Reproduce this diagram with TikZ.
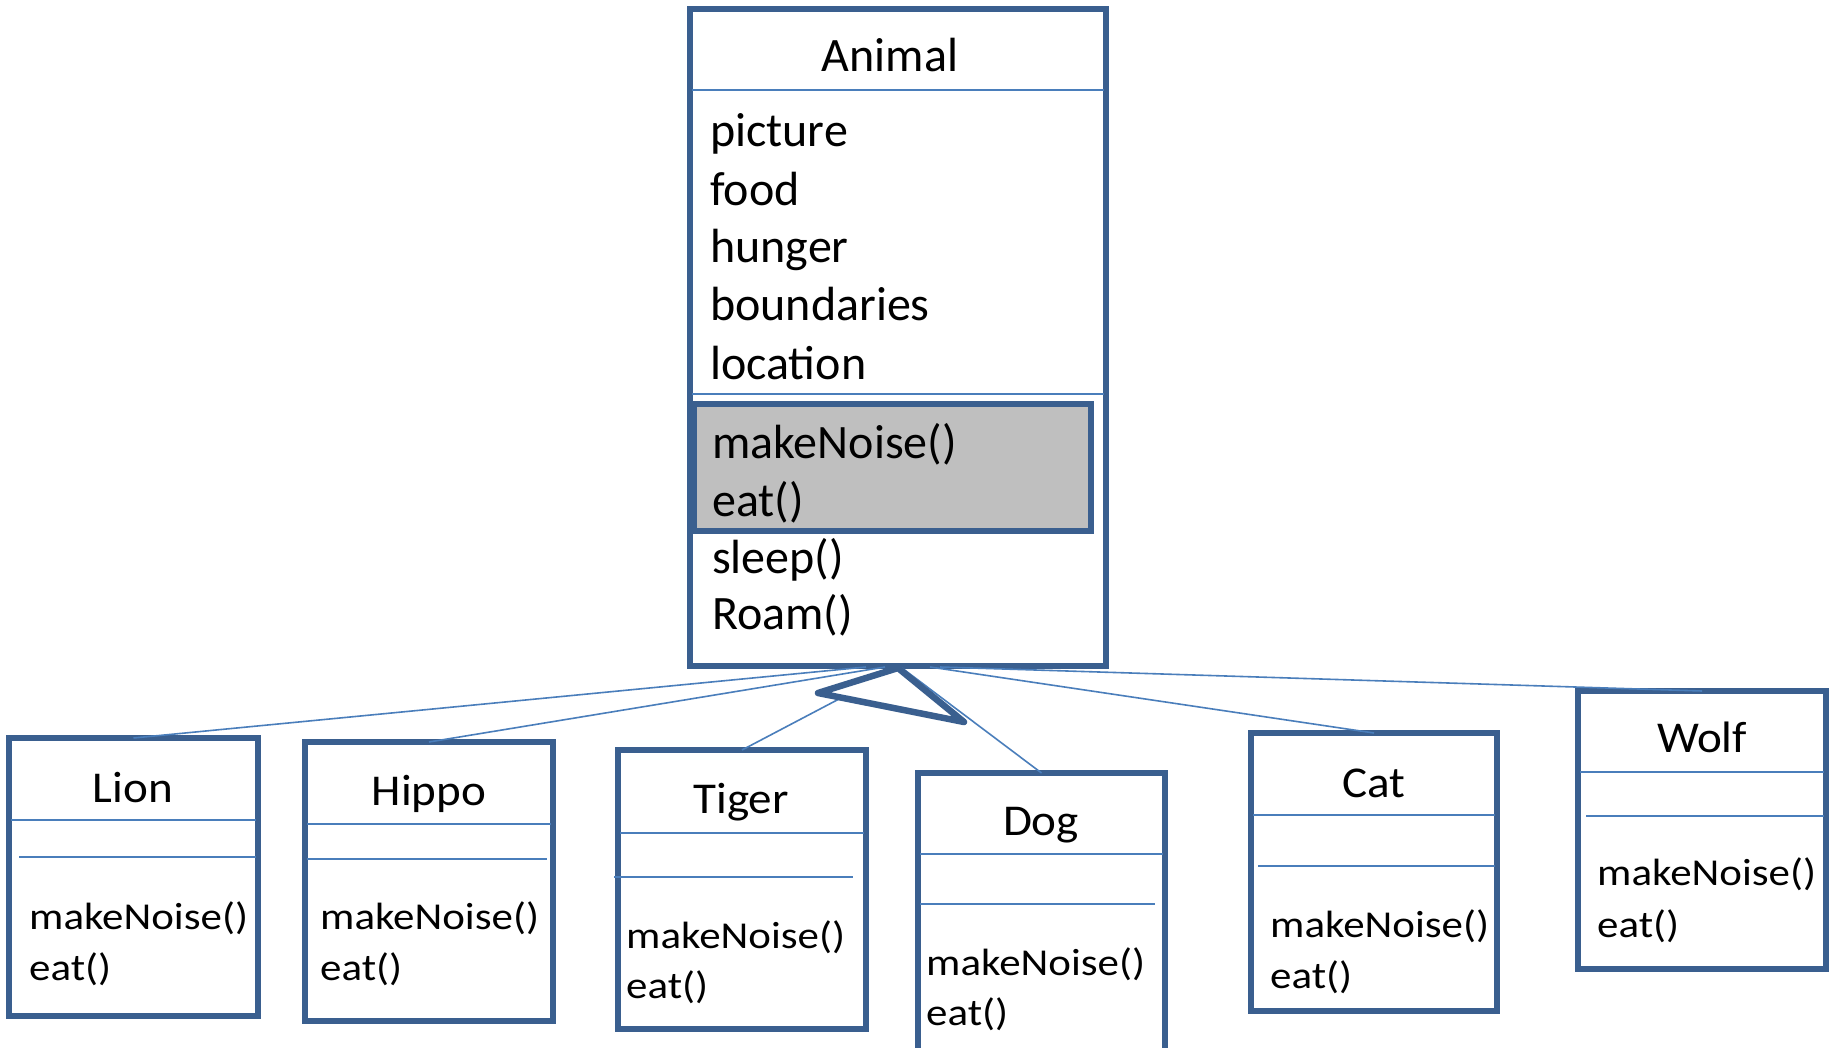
\documentclass[tikz,border=0pt]{standalone}
\usepackage{fontspec}
\setmainfont{Carlito}
\definecolor{boxc}{HTML}{3A5F8F}
\definecolor{linec}{HTML}{4A7EBB}
\definecolor{grayf}{HTML}{BFBFBF}
\begin{document}
\begin{tikzpicture}[x=1pt,y=-1pt,
 box/.style={draw=boxc, line width=5.5pt, inner sep=0pt, outer sep=0pt, anchor=north west, fill=white},
 graybox/.style={box, fill=grayf},
 sepline/.style={draw=linec, line width=1.8pt},
 conn/.style={draw=linec, line width=1.6pt},
 inh/.style={draw=boxc, line width=6.5pt, fill=white, line join=round},
 big/.style={font=\fontsize{48}{57}\selectfont, inner sep=0pt, anchor=base west},
 bigttl/.style={font=\fontsize{48}{57}\selectfont, inner sep=0pt, anchor=base},
 ttl/.style={font=\fontsize{44}{50}\selectfont, inner sep=0pt, anchor=base},
 meth/.style={font=\fontsize{38}{46}\selectfont, inner sep=0pt, anchor=base west},
]
\useasboundingbox (0,0) rectangle (1833,1048);
\clip (0,0) rectangle (1833,1048);
\fill[white] (0,0) rectangle (1833,1048);

% Animal
\node[box, minimum width=416pt, minimum height=657pt] (animal) at (690,9) {};
\draw[sepline] (692,90) -- (1104,90);
\draw[sepline] (692,394) -- (1104,394);
\node[graybox, minimum width=397pt, minimum height=127pt] (abstr) at (694,404) {};
\node[bigttl] (tAnimal) at (890,72) {Animal};
\node[big] (a1) at (710,147) {picture};
\node[big] (a2) at (710,206) {food};
\node[big] (a3) at (710,263) {hunger};
\node[big] (a4) at (710,321) {boundaries};
\node[big] (a5) at (710,379) {location};
\node[big] (m1) at (712,458) {makeNoise()};
\node[big] (m2) at (712,516) {eat()};
\node[big] (m3) at (712,573) {sleep()};
\node[big] (m4) at (712,629) {Roam()};

% children
\node[box, minimum width=249pt, minimum height=278pt] (lion) at (9,738) {};
\draw[sepline] (11,820) -- (256,820);
\draw[sepline] (19,857) -- (256,857);
\node[ttl] (tLion) at (133,802) {\scalebox{1.07}[1]{Lion}};
\node[meth] (lion1) at (29,929) {\scalebox{1.13}[1]{makeNoise()}};
\node[meth] (lion2) at (29,980) {\scalebox{1.13}[1]{eat()}};

\node[box, minimum width=248pt, minimum height=279pt] (hippo) at (305,742) {};
\draw[sepline] (307,824) -- (551,824);
\draw[sepline] (307,859) -- (547,859);
\node[ttl] (tHippo) at (429,805) {\scalebox{1.07}[1]{Hippo}};
\node[meth] (hippo1) at (320,929) {\scalebox{1.13}[1]{makeNoise()}};
\node[meth] (hippo2) at (320,980) {\scalebox{1.13}[1]{eat()}};

\node[box, minimum width=248pt, minimum height=279pt] (tiger) at (618,750) {};
\draw[sepline] (620,833) -- (864,833);
\draw[sepline] (614,877) -- (853,877);
\node[ttl] (tTiger) at (741,813) {\scalebox{1.07}[1]{Tiger}};
\node[meth] (tiger1) at (626,948) {\scalebox{1.13}[1]{makeNoise()}};
\node[meth] (tiger2) at (626,998) {\scalebox{1.13}[1]{eat()}};

\node[box, minimum width=247pt, minimum height=320pt] (dog) at (918,773) {};
\draw[sepline] (920,854) -- (1163,854);
\draw[sepline] (920,904) -- (1155,904);
\node[ttl] (tDog) at (1041,835) {\scalebox{1.07}[1]{Dog}};
\node[meth] (dog1) at (926,975) {\scalebox{1.13}[1]{makeNoise()}};
\node[meth] (dog2) at (926,1025) {\scalebox{1.13}[1]{eat()}};

\node[box, minimum width=246pt, minimum height=278pt] (cat) at (1251,733) {};
\draw[sepline] (1253,815) -- (1495,815);
\draw[sepline] (1258,866) -- (1495,866);
\node[ttl] (tCat) at (1374,797) {\scalebox{1.07}[1]{Cat}};
\node[meth] (cat1) at (1270,937) {\scalebox{1.13}[1]{makeNoise()}};
\node[meth] (cat2) at (1270,988) {\scalebox{1.13}[1]{eat()}};

\node[box, minimum width=248pt, minimum height=278pt] (wolf) at (1578,691) {};
\draw[sepline] (1580,772) -- (1824,772);
\draw[sepline] (1586,816) -- (1824,816);
\node[ttl] (tWolf) at (1702,752) {\scalebox{1.07}[1]{Wolf}};
\node[meth] (wolf1) at (1597,885) {\scalebox{1.13}[1]{makeNoise()}};
\node[meth] (wolf2) at (1597,937) {\scalebox{1.13}[1]{eat()}};

% connectors
\coordinate (sLion) at (866,667);
\coordinate (sHippo) at (885,667);
\coordinate (apex) at (898,668);
\coordinate (sDog) at (902,668);
\coordinate (sCat) at (930,667);
\coordinate (sWolf) at (940,667);
\draw[conn] (sLion) -- (lion.north);
\draw[conn] (sHippo) -- (hippo.north);
\draw[conn] (apex) -- (tiger.north);
\draw[conn] (sDog) -- (dog.north);
\draw[conn] (sCat) -- (cat.north);
\draw[conn] (sWolf) -- (wolf.north);

% inheritance triangle
\coordinate (triL) at (818,693);
\coordinate (triR) at (964,722);
\draw[inh] (apex) -- (triL) -- (triR) -- cycle;
\end{tikzpicture}
\end{document}
